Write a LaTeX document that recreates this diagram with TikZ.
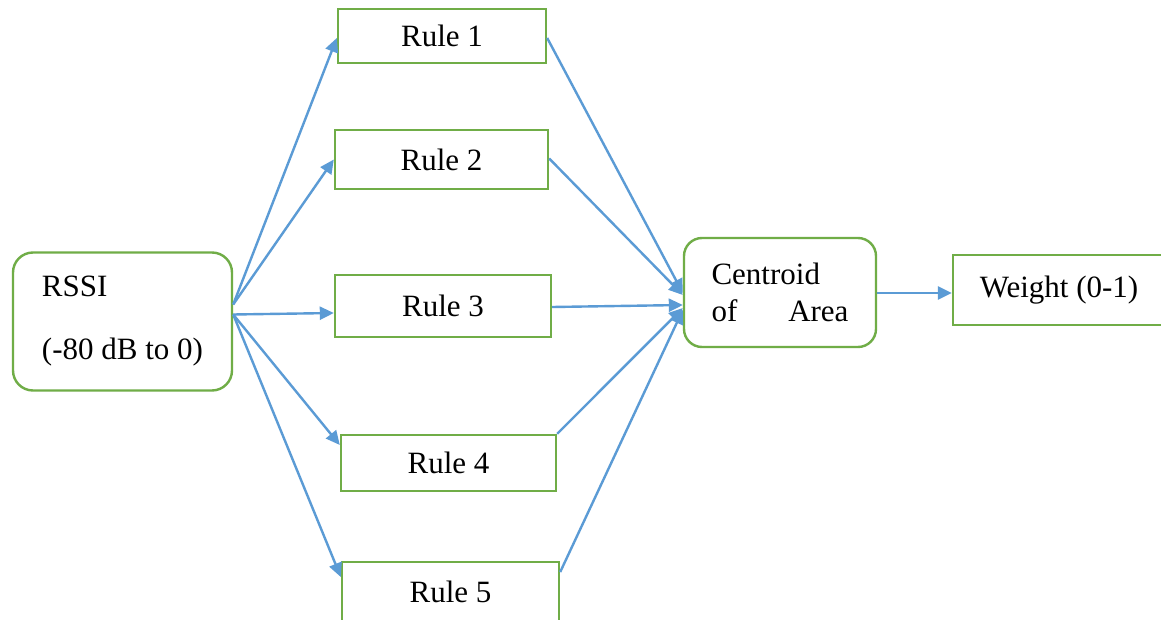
\documentclass[tikz,border=0pt]{standalone}
\usepackage{fontspec}
\setmainfont{Liberation Serif}
\usetikzlibrary{arrows.meta}
\definecolor{boxgreen}{RGB}{112,173,71}
\definecolor{arrowblue}{RGB}{91,155,213}
\tikzset{
  box/.style={draw=boxgreen, line width=2.4pt, fill=white, inner sep=0pt,
    font=\fontsize{31}{37}\selectfont, anchor=center},
  rbox/.style={box, rounded corners=20pt},
  conn/.style={draw=arrowblue, line width=2.4pt,
    -{Triangle[length=14pt,width=13pt]}}
}
\begin{document}
\begin{tikzpicture}[x=1pt,y=-1pt]
\useasboundingbox (0,0) rectangle (1161,620);
\clip (0,0) rectangle (1161,620);
\fill[white] (0,0) rectangle (1161,620);

\node[rbox, minimum width=219pt, minimum height=138pt,
  align=left] (rssi) at (122.5,321.5) {RSSI\\[26pt](-80 dB to 0)};

\node[box, minimum width=208pt, minimum height=54pt] (r1) at (442,36) {Rule 1};
\node[box, minimum width=213pt, minimum height=59pt] (r2) at (441.5,159.5) {Rule 2};
\node[box, minimum width=216pt, minimum height=62pt] (r3) at (443,306) {Rule 3};
\node[box, minimum width=215pt, minimum height=56pt] (r4) at (448.5,463) {Rule 4};
\node[box, minimum width=217pt, minimum height=60pt] (r5) at (450.5,592) {Rule 5};

\node[rbox, rounded corners=18pt, minimum width=192pt, minimum height=109pt,
  align=left] (cen) at (780,292.5)
  {Centroid\\\hbox to 137pt{of\hfill Area}};

\node[box, minimum width=212pt, minimum height=70pt] (wt) at (1059,290) {Weight (0-1)};

% RSSI to rules
\draw[conn] ([yshift=17pt]rssi.east) -- ([yshift=-2pt]r1.west);
\draw[conn] ([yshift=17pt]rssi.east) -- (r2.west);
\draw[conn] ([yshift=7pt]rssi.east) -- ([yshift=-7pt]r3.west);
\draw[conn] ([yshift=7pt]rssi.east) -- ([yshift=18pt]r4.west);
\draw[conn] ([yshift=7pt]rssi.east) -- ([yshift=15pt]r5.west);

% rules to centroid
\draw[conn] ([yshift=-2pt]r1.east) -- ([yshift=-0.5pt]cen.west);
\draw[conn] ([yshift=1pt]r2.east) -- ([yshift=-2.5pt]cen.west);
\draw[conn] ([yshift=-1pt]r3.east) -- ([yshift=-12.5pt]cen.west);
\draw[conn] (r4.north east) -- ([yshift=-15.5pt]cen.west);
\draw[conn] ([yshift=20pt]r5.east) -- ([yshift=-17.5pt]cen.west);

% centroid to weight
\draw[conn] ([yshift=-0.5pt]cen.east) -- ([yshift=-0.5pt]cen.east -| wt.west);
\end{tikzpicture}
\end{document}
